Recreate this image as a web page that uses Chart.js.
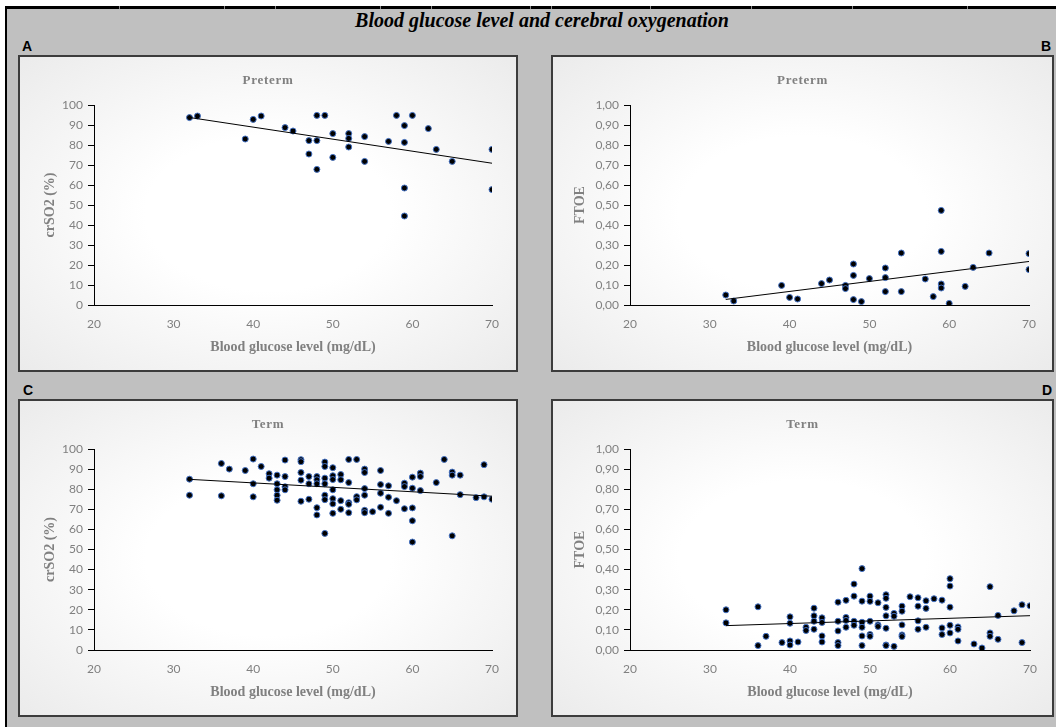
<!DOCTYPE html>
<html>
<head>
<meta charset="utf-8">
<script src="https://cdn.jsdelivr.net/npm/chart.js@4.4.1/dist/chart.umd.min.js"></script>
<style>
  html, body { margin: 0; padding: 0; background: #fff; }
  #page { position: relative; width: 1056px; height: 727px; overflow: hidden; background: #fff; }
  #frame { position: absolute; left: 5px; top: 6px; width: 1051px; height: 721px; box-sizing: border-box;
           background: #c0c0c0; border-left: 2px solid #000; border-top: 3px solid #000; }
  .notch { position: absolute; top: 6px; width: 1px; height: 3px; background: #8a8a8a; }
  #mainTitle { position: absolute; top: 8px; left: 542px; transform: translateX(-50%); white-space: nowrap;
               font: italic bold 20px "Liberation Serif", "Times New Roman", serif; line-height: 25px; color: #000; }
  .letter { position: absolute; font: bold 14px "Liberation Sans", Arial, sans-serif; line-height: 16px; color: #000; }
  .panel { position: absolute; box-sizing: border-box; border: 2px solid #3c3c3c;
           background: radial-gradient(ellipse at 50% 50%, #ffffff 35%, #ebebeb 100%); }
  .panel canvas { position: absolute; left: 0; top: 0; }
  .ptitle { position: absolute; left: 0; right: 0; top: 15px; text-align: center; white-space: nowrap;
            font: bold 13px "Liberation Serif", "Times New Roman", serif; letter-spacing: 0.7px;
            line-height: 16px; color: #808080; }
</style>
</head>
<body>
<div id="page">
  <div id="frame"></div>
  <div class="notch" style="left:119px"></div>
  <div class="notch" style="left:224px"></div>
  <div class="notch" style="left:275px"></div>
  <div class="notch" style="left:380px"></div>
  <div class="notch" style="left:431px"></div>
  <div class="notch" style="left:530px"></div>
  <div class="notch" style="left:551px"></div>
  <div class="notch" style="left:650px"></div>
  <div class="notch" style="left:751px"></div>
  <div class="notch" style="left:852px"></div>
  <div class="notch" style="left:967px"></div>

  <div id="mainTitle">Blood glucose level and cerebral oxygenation</div>

  <div class="letter" style="left:22px; top:38px">A</div>
  <div class="letter" style="right:5px; top:38px">B</div>
  <div class="letter" style="left:23px; top:382px">C</div>
  <div class="letter" style="right:4px; top:382px">D</div>

  <div class="panel" style="left:18px; top:55px; width:500px; height:317px">
    <canvas id="chartA" width="496" height="313"></canvas>
    <div class="ptitle">Preterm</div>
  </div>
  <div class="panel" style="left:551px; top:55px; width:503px; height:317px">
    <canvas id="chartB" width="499" height="313"></canvas>
    <div class="ptitle">Preterm</div>
  </div>
  <div class="panel" style="left:18px; top:399px; width:500px; height:318px">
    <canvas id="chartC" width="496" height="314"></canvas>
    <div class="ptitle">Term</div>
  </div>
  <div class="panel" style="left:551px; top:399px; width:503px; height:318px">
    <canvas id="chartD" width="499" height="314"></canvas>
    <div class="ptitle">Term</div>
  </div>
</div>

<script>
// ---- Axis ticks ----
const glucoseTicks = [20, 30, 40, 50, 60, 70];
const crSO2Ticks = [0, 10, 20, 30, 40, 50, 60, 70, 80, 90, 100];
const ftoeTicks = [0, 0.1, 0.2, 0.3, 0.4, 0.5, 0.6, 0.7, 0.8, 0.9, 1.0];

// ---- A: preterm, crSO2 (%) ----
const pretermGlucoseA = [32, 33, 39, 40, 41, 44, 45, 47, 47, 48, 48, 48, 49, 50, 50, 52,
                         52, 52, 54, 54, 57, 58, 59, 59, 59, 59, 60, 62, 63, 65, 70, 70];
const pretermCrSO2 = [93.7, 94.5, 83, 92.8, 94.5, 88.7, 87, 82.2, 75.5, 94.8, 82.2, 67.8, 94.8, 85.7, 73.8, 85.7,
                      83.3, 79, 84.2, 71.8, 81.8, 94.8, 89.7, 81.3, 58.5, 44.5, 94.8, 88.2, 77.8, 71.8, 77.8, 57.7];

// ---- B: preterm, FTOE ----
const pretermGlucoseB = [32, 33, 39, 40, 41, 44, 45, 47, 47, 48, 48, 48, 49, 50, 52, 52,
                         52, 54, 54, 57, 58, 59, 59, 59, 59, 60, 62, 63, 65, 70, 70];
const pretermFtoe = [0.05, 0.02, 0.098, 0.038, 0.03, 0.107, 0.125, 0.098, 0.082, 0.205, 0.148, 0.027, 0.017, 0.132, 0.185, 0.137,
                     0.067, 0.26, 0.067, 0.13, 0.042, 0.473, 0.268, 0.105, 0.085, 0.008, 0.093, 0.188, 0.26, 0.257, 0.177];

// ---- C: term, crSO2 (%) ----
const termGlucoseC = [
  32, 32, 36, 36, 37, 39, 40, 40, 40, 41, 42, 42,
  43, 43, 43, 43, 43, 44, 44, 44, 44,
  46, 46, 46, 46, 46, 47, 47, 47,
  48, 48, 48, 48, 48, 49, 49, 49, 49, 49, 49, 49,
  50, 50, 50, 50, 50, 50, 50, 51, 51, 51, 51,
  52, 52, 52, 52, 52, 53, 53, 53, 54, 54, 54, 54, 54, 54,
  55, 56, 56, 56, 56, 57, 57, 57, 58, 59, 59, 59,
  60, 60, 60, 60, 60, 61, 61, 61, 63, 64, 65, 65, 65,
  66, 66, 68, 69, 69, 70
];
const termCrSO2 = [
  85, 77, 92.8, 76.7, 90, 89.3, 95, 82.7, 76.2, 91.3, 87.7, 85.5,
  87, 82.7, 79.7, 77, 74.5, 94.5, 86.3, 81.2, 79.7,
  94.7, 93.7, 88.3, 84.5, 74, 86.3, 82.7, 75,
  86.3, 84.7, 82.7, 70.8, 67.2, 93.5, 91.3, 85.5, 82.7, 77, 74.8, 58,
  90.7, 86.7, 84.8, 79.7, 75.3, 72.7, 68, 87.3, 84.7, 74.3, 70,
  94.8, 83.3, 73.3, 72.5, 68.3, 94.8, 76.3, 74.7, 90, 88.3, 80.3, 77, 69.5, 68.3,
  68.8, 89.3, 82.3, 78, 71, 81.7, 76, 68, 74.3, 83, 81.3, 70.3,
  86, 80.5, 70.7, 64.3, 53.7, 88, 86.3, 79.3, 83.3, 94.8, 88.5, 87, 56.8,
  87, 77.3, 75.8, 92.2, 76.2, 75
];

// ---- D: term, FTOE ----
const termGlucoseD = [
  32, 32, 36, 36, 37, 39, 40, 40, 40, 40, 41, 42, 42,
  43, 43, 43, 43, 44, 44, 44, 44,
  46, 46, 46, 46, 46, 47, 47, 47, 47,
  48, 48, 48, 48, 49, 49, 49, 49, 49, 49,
  50, 50, 50, 50, 50, 51, 51, 51,
  52, 52, 52, 52, 52, 52, 52, 53, 53, 53,
  54, 54, 54, 54, 54, 55, 56, 56, 56, 56, 57, 57, 57, 58,
  59, 59, 59, 60, 60, 60, 60, 60, 61, 61, 61,
  63, 64, 65, 65, 65, 66, 66, 68, 69, 69, 70
];
const termFtoe = [
  0.20, 0.135, 0.215, 0.022, 0.068, 0.037, 0.165, 0.133, 0.045, 0.025, 0.04, 0.113, 0.097,
  0.208, 0.17, 0.143, 0.103, 0.16, 0.137, 0.07, 0.04,
  0.238, 0.143, 0.095, 0.037, 0.022, 0.247, 0.162, 0.147, 0.113,
  0.328, 0.268, 0.143, 0.123, 0.405, 0.243, 0.138, 0.113, 0.07, 0.022,
  0.268, 0.242, 0.143, 0.077, 0.068, 0.235, 0.125, 0.117,
  0.275, 0.257, 0.212, 0.17, 0.108, 0.025, 0.022, 0.182, 0.168, 0.018,
  0.218, 0.193, 0.125, 0.075, 0.067, 0.265, 0.26, 0.218, 0.145, 0.103, 0.245, 0.207, 0.113, 0.255,
  0.248, 0.11, 0.077, 0.355, 0.318, 0.213, 0.123, 0.085, 0.115, 0.103, 0.045,
  0.03, 0.01, 0.315, 0.085, 0.068, 0.172, 0.053, 0.195, 0.225, 0.037, 0.22
];

// Least-squares trend line across the observed glucose range
function trendLine(xs, ys) {
  const n = xs.length;
  const mx = xs.reduce((s, v) => s + v, 0) / n;
  const my = ys.reduce((s, v) => s + v, 0) / n;
  let sxy = 0, sxx = 0;
  for (let i = 0; i < n; i++) {
    sxy += (xs[i] - mx) * (ys[i] - my);
    sxx += (xs[i] - mx) * (xs[i] - mx);
  }
  const slope = sxy / sxx;
  const icpt = my - slope * mx;
  const x0 = Math.min(...xs), x1 = Math.max(...xs);
  return [{ x: x0, y: icpt + slope * x0 }, { x: x1, y: icpt + slope * x1 }];
}

const GRAY = '#808080';
const tickFont = { family: 'Lato', size: 12 };
const titleFont = { family: '"Liberation Serif", "Times New Roman", serif', size: 14, weight: 'bold' };

function makeChart(id, xs, ys, opts) {
  const pts = xs.map((x, i) => ({ x: x, y: ys[i] }));
  return new Chart(document.getElementById(id), {
    type: 'scatter',
    data: {
      datasets: [
        {
          data: trendLine(xs, ys),
          showLine: true,
          borderColor: '#000',
          borderWidth: 1,
          pointRadius: 0,
          order: 0
        },
        {
          data: pts,
          backgroundColor: '#000',
          borderColor: '#4472c4',
          borderWidth: 1,
          pointRadius: 3,
          order: 1
        }
      ]
    },
    options: {
      responsive: false,
      animation: false,
      devicePixelRatio: 1,
      layout: { padding: { top: 48, right: opts.padRight, left: 0, bottom: 0 } },
      plugins: { legend: { display: false }, tooltip: { enabled: false }, title: { display: false } },
      scales: {
        x: {
          type: 'linear',
          min: 20, max: 70,
          afterBuildTicks: s => { s.ticks = glucoseTicks.map(v => ({ value: v })); },
          afterFit: s => { s.height = 65; },
          grid: { display: true, drawOnChartArea: false, drawTicks: false },
          border: { display: true, color: '#000', width: 1 },
          ticks: { padding: 12, font: tickFont, color: GRAY, maxRotation: 0, autoSkip: false },
          title: { display: true, text: 'Blood glucose level (mg/dL)', font: titleFont, color: GRAY,
                   padding: { top: 0, bottom: 14 } }
        },
        y: {
          type: 'linear',
          min: 0, max: opts.yMax,
          afterBuildTicks: s => { s.ticks = opts.yTicks.map(v => ({ value: v })); },
          afterFit: s => { s.width = opts.yWidth; },
          grid: { display: true, drawOnChartArea: false, drawTicks: true, tickLength: 6, color: '#000' },
          border: { display: true, color: '#000', width: 1 },
          ticks: { padding: 5, font: tickFont, color: GRAY, autoSkip: false, callback: opts.fmt },
          title: { display: true, text: opts.yTitle, font: titleFont, color: GRAY,
                   padding: { top: opts.yTitlePad, bottom: 0 } }
        }
      }
    }
  });
}

const fmtInt = v => String(v);
const fmtDec = v => Number(v).toFixed(2).replace('.', ',');

Promise.all([
  document.fonts.load('12px Lato'),
  document.fonts.load('bold 14px "Liberation Serif"')
]).catch(() => {}).then(() => {
  makeChart('chartA', pretermGlucoseA, pretermCrSO2,
    { yMax: 100, yTicks: crSO2Ticks, fmt: fmtInt, yTitle: 'crSO2 (%)', yWidth: 74, padRight: 24, yTitlePad: 22 });
  makeChart('chartB', pretermGlucoseB, pretermFtoe,
    { yMax: 1, yTicks: ftoeTicks, fmt: fmtDec, yTitle: 'FTOE', yWidth: 77, padRight: 23, yTitlePad: 19 });
  makeChart('chartC', termGlucoseC, termCrSO2,
    { yMax: 100, yTicks: crSO2Ticks, fmt: fmtInt, yTitle: 'crSO2 (%)', yWidth: 74, padRight: 24, yTitlePad: 22 });
  makeChart('chartD', termGlucoseD, termFtoe,
    { yMax: 1, yTicks: ftoeTicks, fmt: fmtDec, yTitle: 'FTOE', yWidth: 77, padRight: 22, yTitlePad: 19 });
});
</script>
</body>
</html>
